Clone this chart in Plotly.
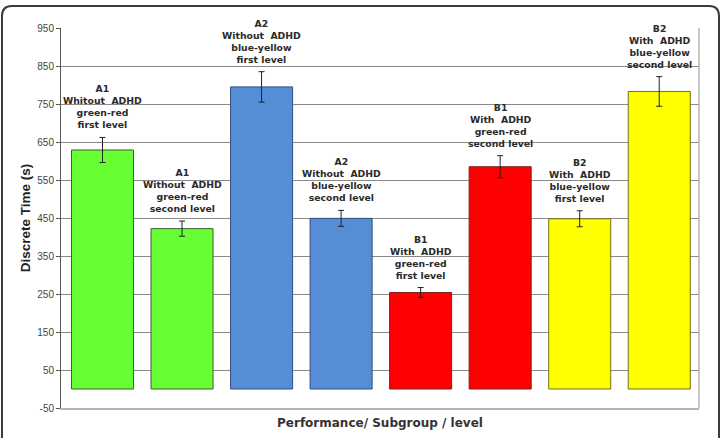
import plotly.graph_objects as go

categories = ["A1 first", "A1 second", "A2 first", "A2 second",
              "B1 first", "B1 second", "B2 first", "B2 second"]
values = [629, 422, 795, 449, 254, 585, 448, 783]
errors = [33, 20, 40, 21, 13, 29, 21, 39]
labels = [
    "A1<br>Whitout  ADHD<br>green-red<br>first level",
    "A1<br>Without  ADHD<br>green-red<br>second level",
    "A2<br>Without  ADHD<br>blue-yellow<br>first level",
    "A2<br>Without  ADHD<br>blue-yellow<br>second level",
    "B1<br>With  ADHD<br>green-red<br>first level",
    "B1<br>With  ADHD<br>green-red<br>second level",
    "B2<br>With  ADHD<br>blue-yellow<br>first level",
    "B2<br>With  ADHD<br>blue-yellow<br>second level",
]
tick_values = [-50, 50, 150, 250, 350, 450, 550, 650, 750, 850, 950]
tick_labels = ["-50", "50", "150", "250", "350", "450", "550", "650", "750", "850", "950"]
colors = ["#66FF33", "#66FF33", "#558ED5", "#558ED5",
          "#FF0000", "#FF0000", "#FFFF00", "#FFFF00"]
outlines = ["#3F5F2F", "#3F5F2F", "#2F4F7F", "#2F4F7F",
            "#7F1F1F", "#7F1F1F", "#6F6F1F", "#6F6F1F"]

W, H = 723, 438
ML, MR, MT, MB = 61, 24, 28, 30
PW, PH = W - ML - MR, H - MT - MB

fig = go.Figure()
fig.add_trace(go.Bar(
    x=categories, y=values,
    marker=dict(color=colors, line=dict(color=outlines, width=1)),
    error_y=dict(type="data", array=errors, color="#222222", thickness=1, width=3),
    width=0.78,
    hoverinfo="skip",
))

for c, v, e, t in zip(categories, values, errors, labels):
    fig.add_annotation(x=c, y=v + e, text=t, showarrow=False, yanchor="bottom",
                       yshift=5,
                       font=dict(family="DejaVu Sans", size=9.3, color="#2a2a2a", weight="bold"))

def px2paper(px, py):
    return (px - ML) / PW, (H - MB - py) / PH

def P(px, py):
    x, y = px2paper(px, py)
    return f"{x:.5f},{y:.5f}"

# outer rounded frame
x0p, y0p, x1p, y1p, r = 2, 6, 719, 450, 10
path = (f"M {P(x0p, y1p)} L {P(x0p, y0p + r)} Q {P(x0p, y0p)} {P(x0p + r, y0p)} "
        f"L {P(x1p - r, y0p)} Q {P(x1p, y0p)} {P(x1p, y0p + r)} L {P(x1p, y1p)}")
fig.add_shape(type="path", path=path, xref="paper", yref="paper",
              line=dict(color="#3a3a3a", width=2), layer="above")
# right border of plot area
fig.add_shape(type="line", xref="paper", yref="paper", x0=1, x1=1, y0=0, y1=1,
              line=dict(color="#b5b5b5", width=1.5))

fig.update_layout(
    width=W, height=H,
    margin=dict(l=ML, r=MR, t=MT, b=MB, autoexpand=False),
    paper_bgcolor="white", plot_bgcolor="white",
    showlegend=False,
    bargap=0.22,
    xaxis=dict(
        automargin=False,
        showticklabels=False, showgrid=False, ticks="",
        showline=True, linecolor="#b5b5b5", linewidth=1.5,
        title=dict(text="Performance/ Subgroup / level", standoff=10,
                   font=dict(family="DejaVu Sans", size=12, color="#333333", weight="bold")),
    ),
    yaxis=dict(
        automargin=False,
        range=[-50, 950], tickvals=tick_values, ticktext=tick_labels,
        showgrid=True, gridcolor="#8a8a8a", gridwidth=1,
        zeroline=False,
        showline=True, linecolor="#555555", linewidth=1,
        ticks="outside", ticklen=4, tickcolor="#555555",
        tickfont=dict(family="Liberation Sans", size=10, color="#444444"),
        title=dict(text="Discrete Time (s)", standoff=3,
                   font=dict(family="Liberation Sans", size=13.5, color="#222222", weight="bold")),
    ),
)

fig.write_html("out.html")
